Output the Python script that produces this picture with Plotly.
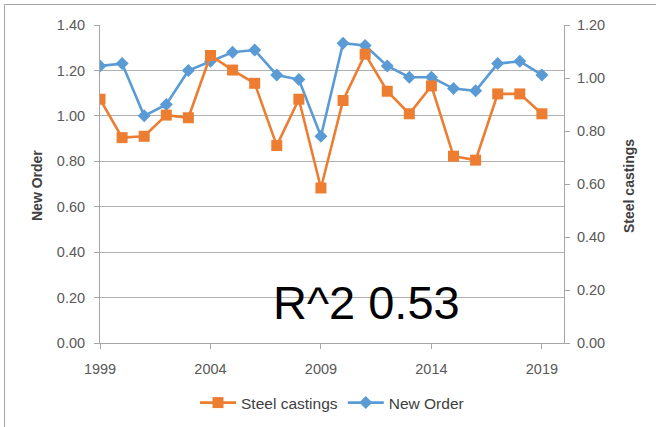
import plotly.graph_objects as go

years = list(range(1999, 2020))
new_order = [1.22, 1.23, 1.00, 1.05, 1.20, 1.24, 1.28, 1.29, 1.18, 1.16, 0.91,
             1.32, 1.31, 1.22, 1.17, 1.17, 1.12, 1.11, 1.23, 1.24, 1.18]
steel_castings = [0.92, 0.775, 0.78, 0.86, 0.85, 1.085, 1.03, 0.98, 0.745, 0.92, 0.585,
                  0.915, 1.09, 0.95, 0.865, 0.97, 0.705, 0.69, 0.94, 0.94, 0.865]
x_ticks = [1999, 2004, 2009, 2014, 2019]
left_ticks = [0.0, 0.2, 0.4, 0.6, 0.8, 1.0, 1.2, 1.4]
right_ticks = [0.0, 0.2, 0.4, 0.6, 0.8, 1.0, 1.2]

ORANGE = "#ED7D31"
BLUE = "#5B9BD5"
FAM = "Liberation Sans, Arial"
TICKFONT = dict(family=FAM, size=14.5, color="#595959")
AXIS = "#A6A6A6"

fig = go.Figure()
fig.add_trace(go.Scatter(
    x=years, y=steel_castings, name="Steel castings", yaxis="y2",
    mode="lines+markers", line=dict(color=ORANGE, width=2.6),
    marker=dict(symbol="square", size=11, color=ORANGE)))
fig.add_trace(go.Scatter(
    x=years, y=new_order, name="New Order", yaxis="y",
    mode="lines+markers", line=dict(color=BLUE, width=2.6),
    marker=dict(symbol="diamond", size=10, color=BLUE)))

fig.update_layout(
    width=656, height=427,
    margin=dict(l=100, r=92, t=25, b=84, autoexpand=False),
    paper_bgcolor="white", plot_bgcolor="white",
    showlegend=True,
    legend=dict(orientation="h", x=(332 - 100) / 464, y=(343 - 403) / 318,
                xanchor="center", yanchor="middle",
                font=dict(family=FAM, size=15.5, color="#404040"),
                traceorder="normal", itemwidth=36),
    xaxis=dict(range=[1999, 2020], tickvals=x_ticks, showgrid=False,
               showline=True, linecolor=AXIS, linewidth=1,
               ticks="outside", ticklen=5, tickcolor=AXIS,
               tickfont=TICKFONT, zeroline=False, ticklabelstandoff=8),
    yaxis=dict(range=[0, 1.4], tickvals=left_ticks, tickformat=".2f",
               showgrid=True, gridcolor="#B0B0B0", gridwidth=1,
               showline=True, linecolor=AXIS, linewidth=1,
               ticks="outside", ticklen=5, tickcolor=AXIS,
               tickfont=TICKFONT, zeroline=False, ticklabelstandoff=6),
    yaxis2=dict(range=[0, 1.2], tickvals=right_ticks, tickformat=".2f",
                overlaying="y", side="right", showgrid=False,
                showline=True, linecolor=AXIS, linewidth=1,
                ticks="outside", ticklen=5, tickcolor=AXIS,
                tickfont=TICKFONT, zeroline=False, ticklabelstandoff=4),
    shapes=[
        dict(type="line", xref="paper", yref="paper",
             x0=(4.5 - 100) / 464, x1=(700 - 100) / 464,
             y0=1 + (25 - 4.5) / 318, y1=1 + (25 - 4.5) / 318,
             line=dict(color="#A6A6A6", width=1)),
        dict(type="line", xref="paper", yref="paper",
             x0=(4.5 - 100) / 464, x1=(4.5 - 100) / 464,
             y0=1 + (25 - 4.5) / 318, y1=(343 - 440) / 318,
             line=dict(color="#A6A6A6", width=1)),
    ],
    annotations=[
        dict(text="<b>New Order</b>", xref="paper", yref="paper",
             x=(37 - 100) / 464, y=(343 - 186) / 318, textangle=-90,
             showarrow=False, xanchor="center", yanchor="middle",
             font=dict(family=FAM, size=14, color="#404040")),
        dict(text="<b>Steel castings</b>", xref="paper", yref="paper",
             x=(629 - 100) / 464, y=(343 - 186) / 318, textangle=-90,
             showarrow=False, xanchor="center", yanchor="middle",
             font=dict(family=FAM, size=14, color="#404040")),
        dict(text="R^2 0.53", xref="paper", yref="paper",
             x=(366 - 100) / 464, y=(343 - 302) / 318,
             showarrow=False, xanchor="center", yanchor="middle",
             font=dict(family=FAM, size=47, color="black")),
    ],
)

fig.write_html("out.html", config={"displayModeBar": False},
               post_script="document.body.style.margin='0';document.body.style.padding='0';")
